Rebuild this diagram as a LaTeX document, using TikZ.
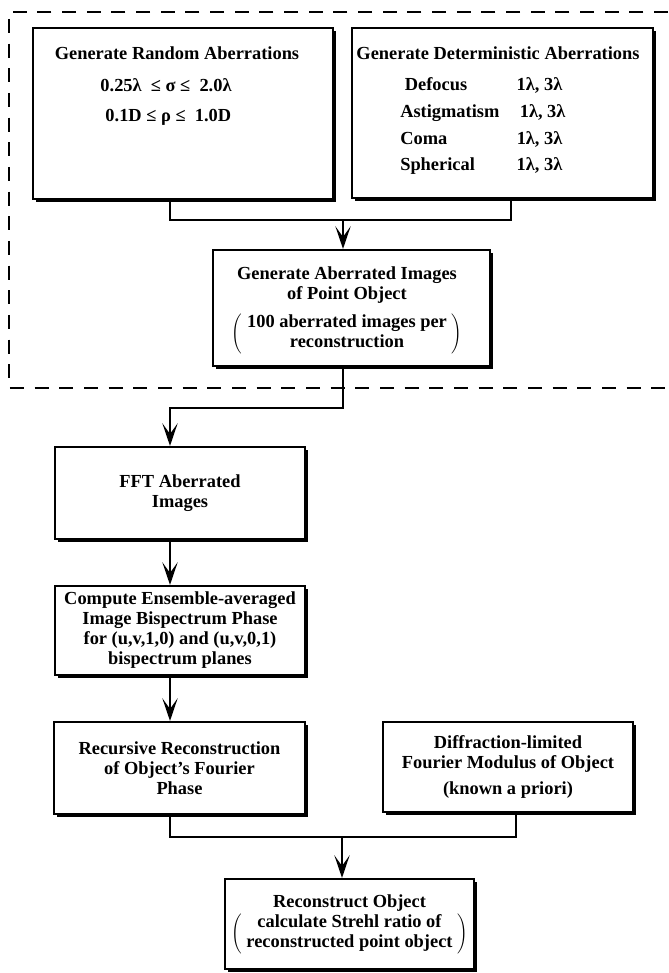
\documentclass[tikz,border=0pt]{standalone}
\usepackage{fontspec}
\setmainfont{Liberation Serif}
\usetikzlibrary{arrows.meta,shadows}

\newcommand{\parennote}[1]{$\left(\begin{tabular}{@{\ }c@{\ }}#1\end{tabular}\right)$}

\begin{document}
\begin{tikzpicture}[x=0.75pt,y=0.75pt,yscale=-1,xscale=1,
  every node/.style={font=\fontsize{13.8}{15}\selectfont\bfseries},
  stagebox/.style={draw,line width=1.6pt,fill=white,inner sep=0pt,align=center,
    drop shadow={shadow xshift=2pt,shadow yshift=-2pt,opacity=1,fill=black}},
  flowline/.style={line width=1.4pt},
  flowarrow/.style={line width=1.4pt,-{Stealth[length=17pt,width=11.5pt,inset=8pt]}},
  groupline/.style={line width=1.7pt,dash pattern={on 10.5pt off 8pt}}
]
\useasboundingbox (0,0) rectangle (668,973);

%Shape: Dashed group
\draw [groupline] (668,12) -- (9,12) -- (9,388) -- (668,388) ;

%Shape: Rectangle
\node [stagebox,minimum width=225pt,minimum height=128.25pt] (rand) at (183,113.5) {};
%Shape: Rectangle
\node [stagebox,minimum width=225.75pt,minimum height=127.5pt] (det) at (502.5,113) {};
%Shape: Rectangle
\node [stagebox,minimum width=207.75pt,minimum height=87pt] (gen) at (351.5,308) {};
%Shape: Rectangle
\node [stagebox,minimum width=187.5pt,minimum height=69pt] (fft) at (180,493)
  {FFT Aberrated\\ Images};
%Shape: Rectangle
\node [stagebox,minimum width=187.5pt,minimum height=66.75pt] (bisp) at (180,630.5)
  {Compute Ensemble-averaged\\ Image Bispectrum Phase\\ for (u,v,1,0) and (u,v,0,1)\\ bispectrum planes};
%Shape: Rectangle
\node [stagebox,minimum width=188.25pt,minimum height=69pt] (recur) at (179.5,768)
  {Recursive Reconstruction\\ of Object's Fourier\\ Phase};
%Shape: Rectangle
\node [stagebox,minimum width=187.5pt,minimum height=67.5pt] (modulus) at (508,767)
  {Diffraction-limited\\ Fourier Modulus of Object\\[5pt] (known a priori)};
%Shape: Rectangle
\node [stagebox,minimum width=186.75pt,minimum height=67.5pt] (recon) at (349.5,924)
  {Reconstruct Object\\[1pt] \parennote{calculate Strehl ratio of\\ reconstructed point object}};

% Text Node
\node (randtitle) at (177,53) {Generate Random Aberrations};
% Text Node
\node [align=center] (randrange) at (166,102) {0.25λ\ \ ≤ σ ≤\ \ 2.0λ\\[7.5pt] \ 0.1D ≤ ρ ≤\ \ 1.0D};
% Text Node
\node (dettitle) at (498,53) {Generate Deterministic Aberrations};
% Text Node
\node [anchor=west,inner sep=0pt] (detlist) at (400,127)
  {\begin{tabular}{@{}l@{\hspace{13pt}}l@{}}
   \ Defocus & 1λ, 3λ\\[5pt]
   Astigmatism & \,1λ, 3λ\\[5pt]
   Coma & 1λ, 3λ\\[5pt]
   Spherical & 1λ, 3λ
   \end{tabular}};
% Text Node
\node [align=center] (gentext) at (347,310)
  {Generate Aberrated Images\\ of Point Object\\[7pt] \parennote{100 aberrated images per\\ reconstruction}};

% Junctions
\coordinate (splitA) at (343,220);
\coordinate (splitB) at (170,408);
\coordinate (splitC) at (342,837);
\coordinate (detdrop) at (511,0);
\coordinate (moddrop) at (516,0);

%Connectors
\draw [flowline] (rand.south -| splitB) |- (splitA) -| (det.south -| detdrop) ;
\draw [flowarrow] (splitA) -- (gen.north -| splitA) ;
\draw [flowarrow] (gen.south -| splitA) |- (splitB) -- (fft.north -| splitB) ;
\draw [flowarrow] (fft.south -| splitB) -- (bisp.north -| splitB) ;
\draw [flowarrow] (bisp.south -| splitB) -- (recur.north -| splitB) ;
\draw [flowline] (recur.south -| splitB) |- (splitC) -| (modulus.south -| moddrop) ;
\draw [flowarrow] (splitC) -- (recon.north -| splitC) ;

\end{tikzpicture}
\end{document}
